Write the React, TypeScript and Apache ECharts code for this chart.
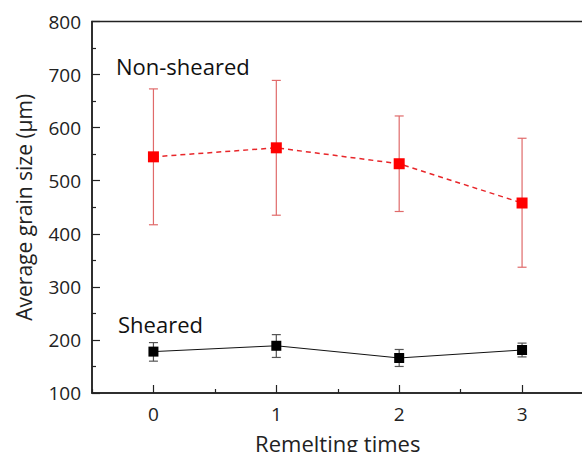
import React, { useEffect, useRef } from "react";
import * as echarts from "echarts";

const categories = ["0", "1", "2", "3"];
const nonShearedMean = [545, 562, 532, 458];
const nonShearedUpper = [673, 689, 622, 580];
const nonShearedLower = [417, 435, 442, 337];
const shearedMean = [178, 189, 166, 181];
const shearedUpper = [195, 210, 182, 194];
const shearedLower = [160, 167, 150, 168];
const yTicks = { min: 100, max: 800, interval: 100 };

const FONT = "Open Sans";
const AXIS_COLOR = "#222";

function errorSeries(lower: number[], upper: number[], color: string) {
  return {
    type: "custom",
    xAxisIndex: 0,
    yAxisIndex: 0,
    z: 1,
    silent: true,
    data: lower.map((lo, i) => [i, lo, upper[i]]),
    encode: { x: 0, y: [1, 2] },
    renderItem: (params: any, api: any) => {
      const x = api.value(0);
      const pLo = api.coord([x, api.value(1)]);
      const pHi = api.coord([x, api.value(2)]);
      const w = 4.5;
      const style = { stroke: color, lineWidth: 1.2 };
      return {
        type: "group",
        children: [
          { type: "line", shape: { x1: pLo[0], y1: pLo[1], x2: pHi[0], y2: pHi[1] }, style },
          { type: "line", shape: { x1: pHi[0] - w, y1: pHi[1], x2: pHi[0] + w, y2: pHi[1] }, style },
          { type: "line", shape: { x1: pLo[0] - w, y1: pLo[1], x2: pLo[0] + w, y2: pLo[1] }, style },
        ],
      };
    },
  };
}

export default function App() {
  const ref = useRef<HTMLDivElement>(null);
  useEffect(() => {
    if (!ref.current) return;
    const chart = echarts.init(ref.current, null, { renderer: "svg" });
    chart.setOption({
      animation: false,
      backgroundColor: "#fff",
      textStyle: { fontFamily: FONT },
      grid: {
        left: 92,
        top: 21.5,
        width: 491.5,
        height: 371.5,
        outerBoundsMode: "none",
        containLabel: false,
        show: true,
        borderColor: AXIS_COLOR,
        borderWidth: 1.5,
        backgroundColor: "transparent",
      },
      xAxis: [
        {
          type: "category",
          data: categories,
          position: "bottom",
          boundaryGap: true,
          name: "Remelting times",
          nameLocation: "middle",
          nameGap: 39,
          nameTextStyle: { fontSize: 22, color: AXIS_COLOR, fontFamily: FONT },
          axisLine: { show: true, lineStyle: { color: AXIS_COLOR, width: 1.5 } },
          axisTick: { show: true, inside: true, alignWithLabel: true, length: 8, interval: 0, lineStyle: { color: AXIS_COLOR, width: 1.2 } },
          axisLabel: { show: true, interval: 0, margin: 11, fontSize: 19, color: AXIS_COLOR, fontFamily: FONT },
          splitLine: { show: false },
        },
        {
          type: "category",
          data: categories,
          position: "bottom",
          boundaryGap: true,
          axisLine: { show: false },
          axisTick: { show: true, inside: true, alignWithLabel: false, length: 4, interval: 0, lineStyle: { color: AXIS_COLOR, width: 1.2 } },
          axisLabel: { show: false },
          splitLine: { show: false },
        },
      ],
      yAxis: {
        type: "value",
        min: yTicks.min,
        max: yTicks.max,
        interval: yTicks.interval,
        name: "Average grain size (μm)",
        nameLocation: "middle",
        nameGap: 58,
        nameTextStyle: { fontSize: 21, color: AXIS_COLOR, fontFamily: FONT },
        axisLine: { show: true, lineStyle: { color: AXIS_COLOR, width: 1.5 } },
        axisTick: { show: true, inside: true, length: 8, lineStyle: { color: AXIS_COLOR, width: 1.2 } },
        minorTick: { show: true, splitNumber: 2, length: 4, lineStyle: { color: AXIS_COLOR, width: 1.2 } },
        axisLabel: { margin: 11, fontSize: 19, color: AXIS_COLOR, fontFamily: FONT },
        splitLine: { show: false },
      },
      series: [
        errorSeries(nonShearedLower, nonShearedUpper, "#e06a6a"),
        errorSeries(shearedLower, shearedUpper, "#555"),
        {
          type: "line",
          name: "Non-sheared",
          data: nonShearedMean,
          z: 3,
          symbol: "rect",
          symbolSize: 11,
          itemStyle: { color: "#ff0000" },
          lineStyle: { color: "#e8262a", width: 1.5, type: [5, 4] },
        },
        {
          type: "line",
          name: "Sheared",
          data: shearedMean,
          z: 3,
          symbol: "rect",
          symbolSize: 10,
          itemStyle: { color: "#000" },
          lineStyle: { color: "#111", width: 1 },
        },
      ],
      graphic: [
        {
          type: "text",
          left: 116,
          top: 55,
          style: { text: "Non-sheared", fontSize: 22, fontFamily: FONT, fill: "#111" },
        },
        {
          type: "text",
          left: 118,
          top: 313,
          style: { text: "Sheared", fontSize: 22, fontFamily: FONT, fill: "#111" },
        },
      ],
    });
    return () => chart.dispose();
  }, []);
  return (
    <div
      ref={ref}
      style={{ position: "absolute", left: 0, top: 0, width: 582, height: 452 }}
    />
  );
}
